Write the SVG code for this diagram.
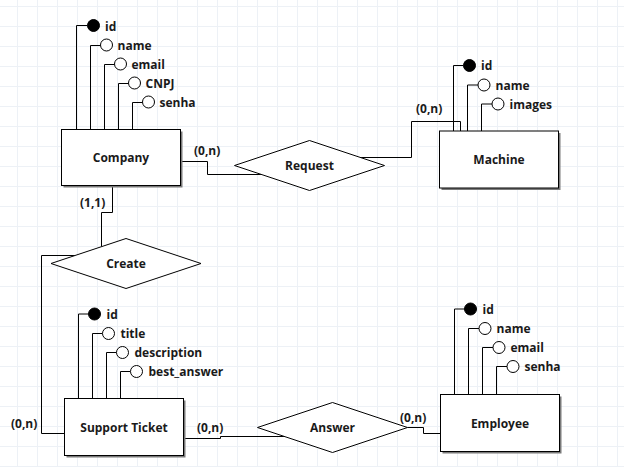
<svg xmlns="http://www.w3.org/2000/svg" width="624" height="467" viewBox="0 0 624 467">
<defs>
<pattern id="grid" x="17" y="6" width="20" height="20" patternUnits="userSpaceOnUse">
<path d="M0 0.5H20M0.5 0V20" fill="none" stroke="#edf1f6" stroke-width="1"/>
</pattern>
<style>
text{font-family:"Open Sans","Noto Sans","Liberation Sans",sans-serif;font-weight:bold;font-size:12px;fill:#1a1a1a}
.c{text-anchor:middle}
.ent{fill:#fff;stroke:#000;stroke-width:1}
.sh{fill:#7a7a7a}
.rel{fill:#fff;stroke:#000;stroke-width:1}
.ln{fill:none;stroke:#000;stroke-width:1}
.att{fill:#fff;stroke:#000;stroke-width:1}
.key{fill:#000;stroke:#000;stroke-width:1}
</style>
</defs>
<rect width="624" height="467" fill="#fff"/>
<rect width="624" height="467" fill="url(#grid)"/>

<g id="connectors">
<path class="ln" d="M180.5 161.5H207.5V174.5H261"/>
<path class="ln" d="M360 157.5H411.5V121.5H460.5V131"/>
<path class="ln" d="M112.5 185.5V212.5H101.5V246.5"/>
<path class="ln" d="M75 255.5H41.5V433.5H64.5"/>
<path class="ln" d="M183.5 438.5H220.5V436.5H284"/>
<path class="ln" d="M407.5 427.5H423.5V433.5H440.5"/>
<text x="194" y="155">(0,n)</text>
<text x="416" y="113">(0,n)</text>
<text x="80" y="206.5">(1,1)</text>
<text x="11" y="427.5">(0,n)</text>
<text x="197" y="432">(0,n)</text>
<text x="400" y="422">(0,n)</text>
</g>

<g id="company">
<path class="ln" d="M76.5 129.5V25.5H87.5M90.5 129.5V45.5H100.5M104.5 129.5V64.5H114.5M118.5 129.5V83.5H128.5M132.5 129.5V102.5H142.5"/>
<circle class="key" cx="93.5" cy="25.5" r="6"/>
<circle class="att" cx="106.5" cy="45" r="6"/>
<circle class="att" cx="120.5" cy="64" r="6"/>
<circle class="att" cx="134.5" cy="83" r="6"/>
<circle class="att" cx="148.5" cy="102" r="6"/>
<text x="105" y="30.5">id</text>
<text x="117.5" y="49.5">name</text>
<text x="131.5" y="68.5">email</text>
<text x="145.5" y="87.5">CNPJ</text>
<text x="159.5" y="106.5">senha</text>
<rect class="sh" x="63.5" y="131.5" width="119" height="56"/>
<rect class="ent" x="61.5" y="129.5" width="119" height="56"/>
<text class="c" x="121" y="162">Company</text>
</g>

<g id="machine">
<path class="ln" d="M453.5 131V65.5H463.5M467.5 131V85H478M481.5 131V104H492"/>
<circle class="key" cx="469.5" cy="65.5" r="6"/>
<circle class="att" cx="484" cy="85" r="6"/>
<circle class="att" cx="498" cy="104" r="6"/>
<text x="481" y="70">id</text>
<text x="495.5" y="89.5">name</text>
<text x="509.5" y="108.5">images</text>
<rect class="sh" x="441.5" y="133" width="119" height="57"/>
<rect class="ent" x="439.5" y="131" width="119" height="57"/>
<text class="c" x="499" y="164">Machine</text>
</g>

<g id="support_ticket">
<path class="ln" d="M78.5 398.5V314H88.5M92.5 398.5V333.5H102.5M106.5 398.5V352.5H116.5M120.5 398.5V371.5H130.5"/>
<circle class="key" cx="94.5" cy="314" r="6"/>
<circle class="att" cx="108.5" cy="333.5" r="6"/>
<circle class="att" cx="122.5" cy="352.5" r="6"/>
<circle class="att" cx="136.5" cy="371.5" r="6"/>
<text x="106.5" y="318.5">id</text>
<text x="120.5" y="338">title</text>
<text x="134.5" y="357">description</text>
<text x="148.5" y="376">best_answer</text>
<rect class="sh" x="66.5" y="400.5" width="119" height="57"/>
<rect class="ent" x="64.5" y="398.5" width="119" height="57"/>
<text class="c" x="124" y="431.5">Support Ticket</text>
</g>

<g id="employee">
<path class="ln" d="M454.5 394.5V309H464.5M468.5 394.5V328.5H479M482.5 394.5V347.5H493M496.5 394.5V366.5H507"/>
<circle class="key" cx="470.5" cy="309" r="6"/>
<circle class="att" cx="485" cy="328.5" r="6"/>
<circle class="att" cx="499" cy="347.5" r="6"/>
<circle class="att" cx="513" cy="366.5" r="6"/>
<text x="482.5" y="313.5">id</text>
<text x="496.5" y="333">name</text>
<text x="510.5" y="352">email</text>
<text x="524.5" y="371">senha</text>
<rect class="sh" x="442.5" y="396.5" width="119" height="57"/>
<rect class="ent" x="440.5" y="394.5" width="119" height="57"/>
<text class="c" x="500" y="427.5">Employee</text>
</g>

<g id="request">
<path class="rel" d="M234.5 165.5L309.5 140.5L384.5 165.5L309.5 190.5Z"/>
<text class="c" x="309.5" y="170">Request</text>
</g>

<g id="create">
<path class="rel" d="M51 263.5L126 238.5L201 263.5L126 288.5Z"/>
<text class="c" x="126" y="268">Create</text>
</g>

<g id="answer">
<path class="rel" d="M257.5 427.5L332.5 402.5L407.5 427.5L332.5 452.5Z"/>
<text class="c" x="332.5" y="432">Answer</text>
</g>
</svg>
